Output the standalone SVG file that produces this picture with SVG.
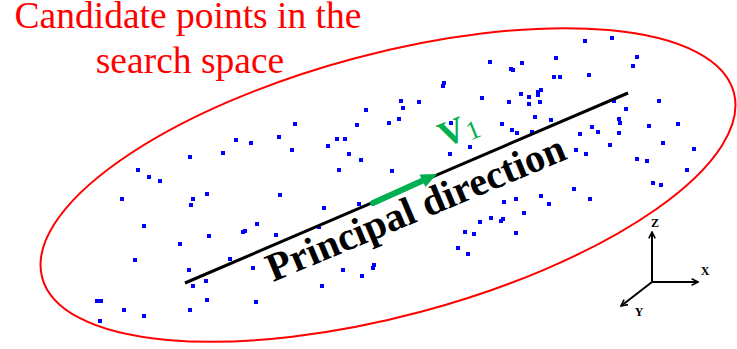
<svg xmlns="http://www.w3.org/2000/svg" width="737" height="349" viewBox="0 0 737 349">
<style>
.t{font-family:"Liberation Serif","Times New Roman",serif}
.red{fill:#ff0000}
.pt{fill:#0000ff}
.ax{stroke:#000;stroke-width:2;fill:none}
.axl{font-family:"Liberation Serif","Times New Roman",serif;font-weight:bold;font-size:12px;fill:#000;text-anchor:middle}
</style>
<defs>
<marker id="open" viewBox="0 0 10 10" refX="9" refY="5" markerWidth="8" markerHeight="8" markerUnits="userSpaceOnUse" orient="auto">
<path d="M1,1 L9,5 L1,9" fill="none" stroke="#000" stroke-width="2"/>
</marker>
</defs>
<rect width="737" height="349" fill="#fff"/>
<g id="title">
<text class="t red" x="188" y="28" font-size="37.5" text-anchor="middle">Candidate points in the</text>
<text class="t red" x="190" y="73" font-size="37.5" text-anchor="middle">search space</text>
</g>
<g id="search-space">
<ellipse cx="388" cy="185" rx="358" ry="131" transform="rotate(-15 388 185)" fill="none" stroke="#ff0000" stroke-width="2"/>
</g>
<g id="points" class="pt">
<rect x="136" y="168" width="4" height="4"/><rect x="147" y="175" width="4" height="4"/><rect x="158" y="179" width="4" height="4"/><rect x="120" y="197" width="4" height="4"/><rect x="188" y="155" width="4" height="4"/><rect x="221" y="151" width="4" height="4"/><rect x="234" y="138" width="4" height="4"/><rect x="249" y="141" width="4" height="4"/><rect x="277" y="135" width="4" height="4"/><rect x="205" y="192" width="4" height="4"/><rect x="191" y="197" width="4" height="4"/><rect x="189" y="203" width="4" height="4"/><rect x="142" y="224" width="4" height="4"/><rect x="207" y="234" width="4" height="4"/><rect x="178" y="242" width="4" height="4"/><rect x="241" y="230" width="4" height="4"/><rect x="243" y="229" width="4" height="4"/><rect x="133" y="258" width="4" height="4"/><rect x="228" y="257" width="4" height="4"/><rect x="187" y="268" width="4" height="4"/><rect x="204" y="279" width="4" height="4"/><rect x="191" y="284" width="4" height="4"/><rect x="95" y="299" width="4" height="4"/><rect x="99" y="299" width="4" height="4"/><rect x="205" y="298" width="4" height="4"/><rect x="122" y="308" width="4" height="4"/><rect x="142" y="314" width="4" height="4"/><rect x="188" y="308" width="4" height="4"/><rect x="98" y="319" width="4" height="4"/>
<rect x="293" y="122" width="4" height="4"/><rect x="290" y="148" width="4" height="4"/><rect x="364" y="108" width="4" height="4"/><rect x="355" y="123" width="4" height="4"/><rect x="387" y="121" width="4" height="4"/><rect x="335" y="137" width="4" height="4"/><rect x="343" y="137" width="4" height="4"/><rect x="326" y="144" width="4" height="4"/><rect x="347" y="152" width="4" height="4"/><rect x="359" y="158" width="4" height="4"/><rect x="337" y="168" width="4" height="4"/><rect x="278" y="193" width="4" height="4"/><rect x="322" y="206" width="4" height="4"/><rect x="357" y="202" width="4" height="4"/><rect x="255" y="222" width="4" height="4"/><rect x="274" y="233" width="4" height="4"/><rect x="317" y="225" width="4" height="4"/><rect x="251" y="266" width="4" height="4"/><rect x="341" y="268" width="4" height="4"/><rect x="360" y="274" width="4" height="4"/><rect x="372" y="263" width="4" height="4"/><rect x="371" y="266" width="4" height="4"/><rect x="320" y="284" width="4" height="4"/><rect x="254" y="300" width="4" height="4"/>
<rect x="399" y="99" width="4" height="4"/><rect x="401" y="106" width="4" height="4"/><rect x="417" y="100" width="4" height="4"/><rect x="397" y="117" width="4" height="4"/><rect x="442" y="81" width="4" height="4"/><rect x="441" y="84" width="4" height="4"/><rect x="480" y="96" width="4" height="4"/><rect x="488" y="60" width="4" height="4"/><rect x="520" y="61" width="4" height="4"/><rect x="509" y="67" width="4" height="4"/><rect x="511" y="68" width="4" height="4"/><rect x="554" y="56" width="4" height="4"/><rect x="552" y="75" width="4" height="4"/><rect x="558" y="75" width="4" height="4"/><rect x="539" y="88" width="4" height="4"/><rect x="536" y="90" width="4" height="4"/><rect x="536" y="93" width="4" height="4"/><rect x="519" y="92" width="4" height="4"/><rect x="527" y="95" width="4" height="4"/><rect x="527" y="102" width="4" height="4"/><rect x="538" y="100" width="4" height="4"/><rect x="507" y="100" width="4" height="4"/><rect x="533" y="115" width="4" height="4"/><rect x="549" y="118" width="4" height="4"/><rect x="500" y="122" width="4" height="4"/><rect x="510" y="128" width="4" height="4"/><rect x="515" y="131" width="4" height="4"/><rect x="530" y="130" width="4" height="4"/><rect x="449" y="121" width="4" height="4"/><rect x="468" y="145" width="4" height="4"/><rect x="448" y="152" width="4" height="4"/><rect x="390" y="169" width="4" height="4"/>
<rect x="583" y="39" width="4" height="4"/><rect x="610" y="36" width="4" height="4"/><rect x="635" y="55" width="4" height="4"/><rect x="631" y="64" width="4" height="4"/><rect x="587" y="73" width="4" height="4"/><rect x="612" y="99" width="4" height="4"/><rect x="657" y="99" width="4" height="4"/><rect x="624" y="107" width="4" height="4"/><rect x="617" y="117" width="4" height="4"/><rect x="618" y="121" width="4" height="4"/><rect x="590" y="125" width="4" height="4"/><rect x="596" y="130" width="4" height="4"/><rect x="617" y="131" width="4" height="4"/><rect x="578" y="132" width="4" height="4"/><rect x="647" y="124" width="4" height="4"/><rect x="676" y="122" width="4" height="4"/><rect x="608" y="143" width="4" height="4"/><rect x="661" y="141" width="4" height="4"/><rect x="692" y="147" width="4" height="4"/><rect x="574" y="148" width="4" height="4"/><rect x="584" y="152" width="4" height="4"/><rect x="635" y="157" width="4" height="4"/><rect x="645" y="159" width="4" height="4"/><rect x="685" y="168" width="4" height="4"/><rect x="651" y="181" width="4" height="4"/><rect x="659" y="183" width="4" height="4"/><rect x="572" y="187" width="4" height="4"/><rect x="588" y="197" width="4" height="4"/><rect x="539" y="194" width="4" height="4"/><rect x="514" y="197" width="4" height="4"/><rect x="547" y="202" width="4" height="4"/><rect x="502" y="200" width="4" height="4"/><rect x="522" y="211" width="4" height="4"/><rect x="489" y="216" width="4" height="4"/><rect x="478" y="220" width="4" height="4"/><rect x="501" y="217" width="4" height="4"/><rect x="499" y="219" width="4" height="4"/><rect x="463" y="230" width="4" height="4"/><rect x="472" y="232" width="4" height="4"/><rect x="514" y="231" width="4" height="4"/><rect x="456" y="246" width="4" height="4"/><rect x="466" y="252" width="4" height="4"/>
</g>
<g id="connectors">
<line id="principal-axis" x1="185" y1="283" x2="628" y2="93" stroke="#000" stroke-width="3"/>
<g id="v1-arrow">
<line x1="373" y1="203" x2="424" y2="180" stroke="#00b050" stroke-width="6" stroke-linecap="round"/>
<polygon points="437,174 419.5,174.5 425.5,187.1" fill="#00b050"/>
</g>
</g>
<g id="principal-label">
<text class="t" x="0" y="0" font-size="40" font-weight="bold" fill="#000" transform="translate(273 282) rotate(-22.7)">Principal direction</text>
</g>
<g id="v1-label" transform="translate(446 147) rotate(-22)">
<text class="t" x="-2" y="0" font-size="36" font-weight="bold" fill="#00b050">V</text>
<text class="t" x="25" y="3" font-size="26" fill="#00b050">1</text>
</g>
<g id="axes">
<line class="ax" x1="652" y1="282" x2="652" y2="232" marker-end="url(#open)"/>
<line class="ax" x1="652" y1="282" x2="698" y2="282" marker-end="url(#open)"/>
<line class="ax" x1="652" y1="282" x2="621" y2="306" marker-end="url(#open)"/>
<text class="axl" x="655" y="227">Z</text>
<text class="axl" x="705" y="275">X</text>
<text class="axl" x="639" y="316">Y</text>
</g>
</svg>
